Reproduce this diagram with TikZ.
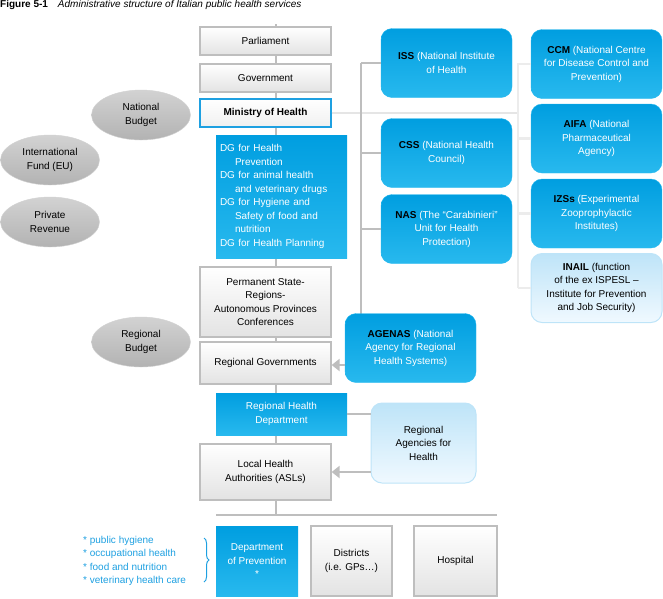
\documentclass[tikz,border=0pt]{standalone}
\usepackage{fontspec}
\setmainfont{Liberation Sans}
\usetikzlibrary{shapes.geometric,arrows.meta,decorations.pathreplacing}
\definecolor{bA}{RGB}{0,158,224}
\definecolor{bB}{RGB}{40,185,238}
\definecolor{lA}{RGB}{190,228,248}
\definecolor{lB}{RGB}{240,249,255}
\definecolor{ln}{RGB}{190,190,190}
\definecolor{tb}{RGB}{30,160,225}
\begin{document}
\begin{tikzpicture}[x=1pt,y=-1pt,font=\fontsize{10}{13.5}\selectfont,
 gbox/.style={draw=ln,line width=1.2pt,top color=white,bottom color=gray!22,align=center,inner sep=1pt},
 mbox/.style={draw=tb,line width=1.2pt,fill=white,top color=white,bottom color=gray!12,align=center,inner sep=1pt,font=\fontsize{10}{13.5}\selectfont\bfseries},
 bbox/.style={top color=bA,bottom color=bB,text=white,align=center,inner sep=1pt},
 rbox/.style={rounded corners=11pt,top color=bA,bottom color=bB,draw=bB,text=white,align=center,inner sep=1pt},
 lbox/.style={rounded corners=11pt,top color=lA,bottom color=lB,draw=lA,line width=1pt,align=center,inner sep=1pt},
 ell/.style={ellipse,top color=gray!35,bottom color=gray!60,draw=gray!35,align=center,minimum width=99pt,minimum height=50pt,inner sep=0pt},
 con/.style={draw=ln,line width=2.5pt},
 arr/.style={draw=ln,line width=2.5pt,-{Triangle[length=8pt,width=12pt]}}]
\useasboundingbox (0,0) rectangle (663,598);
\node[anchor=north west,inner sep=0pt] (title) at (0,0) {\textbf{Figure 5-1}\quad\textit{Administrative structure of Italian public health services}};
% spine
\coordinate (top) at (276,24);
\coordinate (bot) at (276,515);
\draw[con] (top) -- (bot);
\coordinate (bl) at (216,515);
\coordinate (br) at (497,515);
\draw[con] (bl) -- (br);
% left column
\node[gbox,minimum width=131pt,minimum height=28pt] (parl) at (265.5,41) {Parliament};
\node[gbox,minimum width=131pt,minimum height=28pt] (gov) at (265.5,78) {Government};
\node[mbox,minimum width=131pt,minimum height=28pt] (moh) at (265.5,113) {Ministry of Health};
\node[bbox,minimum width=131pt,minimum height=123pt,align=left,text width=123pt] (dg) at (281.5,196.5) {DG for Health\\\hspace*{15pt}Prevention\\DG for animal health\\\hspace*{15pt}and veterinary drugs\\DG for Hygiene and\\\hspace*{15pt}Safety of food and\\\hspace*{15pt}nutrition\\DG for Health Planning};
\node[gbox,minimum width=131pt,minimum height=70pt] (psr) at (265.5,302) {Permanent State-\\Regions-\\Autonomous Provinces\\Conferences};
\node[gbox,minimum width=131pt,minimum height=42pt] (rg) at (265.5,363) {Regional Governments};
\node[bbox,minimum width=131pt,minimum height=42pt] (rhd) at (281.5,414) {Regional Health\\Department};
\node[gbox,minimum width=131pt,minimum height=56pt] (lha) at (265.5,472) {Local Health\\Authorities (ASLs)};
\node[bbox,minimum width=82pt,minimum height=70pt] (dp) at (257,561) {Department\\of Prevention\\*};
\node[gbox,minimum width=81pt,minimum height=70pt] (dis) at (351.5,561) {Districts\\(i.e. GPs…)};
\node[gbox,minimum width=83pt,minimum height=70pt] (hos) at (455.5,561) {Hospital};
\node[text=tb,align=left,anchor=west,inner sep=0pt] (bul) at (83,561) {* public hygiene\\* occupational health\\* food and nutrition\\* veterinary health care};
\coordinate (b1) at (204,538);
\coordinate (b2) at (204,582);
\draw[tb,line width=1pt,decorate,decoration={brace,amplitude=5pt}] (b1) -- (b2);
% ellipses
\node[ell] (nb) at (141,115) {National\\Budget};
\node[ell] (ifu) at (50,160) {International\\Fund (EU)};
\node[ell] (pr) at (50,222) {Private\\Revenue};
\node[ell] (rb) at (141,342) {Regional\\Budget};
% right side lines
\coordinate (v1t) at (361,63);
\coordinate (v1b) at (361,316);
\coordinate (v2t) at (518,63);
\coordinate (v2b) at (518,288);
\coordinate (h1) at (518,113);
\draw[con,draw=gray!20] (moh.east) -- (h1);
\draw[con] (v1t) -- (v1b);
\draw[con,draw=gray!15] (v2t) -- (v2b);
% middle boxes
\node[rbox,minimum width=131pt,minimum height=69pt] (iss) at (446.5,63) {\textcolor{black}{\textbf{ISS}} (National Institute\\of Health};
\node[rbox,minimum width=131pt,minimum height=69pt] (css) at (446.5,153) {\textcolor{black}{\textbf{CSS}} (National Health\\Council)};
\node[rbox,minimum width=131pt,minimum height=69pt] (nas) at (446.5,229) {\textcolor{black}{\textbf{NAS}} (The “Carabinieri”\\Unit for Health\\Protection)};
\node[rbox,minimum width=131pt,minimum height=69pt] (age) at (410.5,348) {\textcolor{black}{\textbf{AGENAS}} (National\\Agency for Regional\\Health Systems)};
\node[lbox,minimum width=105pt,minimum height=80pt] (raf) at (423.5,443) {Regional\\Agencies for\\Health};
% right boxes
\node[rbox,minimum width=131pt,minimum height=69pt] (ccm) at (596.5,64) {\textcolor{black}{\textbf{CCM}} (National Centre\\for Disease Control and\\Prevention)};
\node[rbox,minimum width=131pt,minimum height=69pt] (aifa) at (596.5,138.5) {\textcolor{black}{\textbf{AIFA}} (National\\Pharmaceutical\\Agency)};
\node[rbox,minimum width=131pt,minimum height=69pt] (izs) at (596.5,213.5) {\textcolor{black}{\textbf{IZSs}} (Experimental\\Zooprophylactic\\Institutes)};
\node[lbox,minimum width=131pt,minimum height=69pt] (inail) at (596.5,288) {\textbf{INAIL} (function\\of the ex ISPESL –\\Institute for Prevention\\and Job Security)};
% stubs
\draw[con] (v1t) -- (iss.west);
\draw[con] (css.west -| v1t) -- (css.west);
\draw[con] (nas.west -| v1t) -- (nas.west);
\draw[con,draw=gray!15] (ccm.west -| v2t) -- (ccm.west);
\draw[con,draw=gray!15] (aifa.west -| v2t) -- (aifa.west);
\draw[con,draw=gray!15] (izs.west -| v2t) -- (izs.west);
\draw[con,draw=gray!15] (inail.west -| v2t) -- (inail.west);
\draw[arr] (age.west |- 0,365) -- (rg.east |- 0,365);
\draw[con] (rhd.east) -- (raf.west |- rhd.east);
\draw[arr] (raf.west |- 0,472) -- (lha.east |- 0,472);
\end{tikzpicture}
\end{document}
